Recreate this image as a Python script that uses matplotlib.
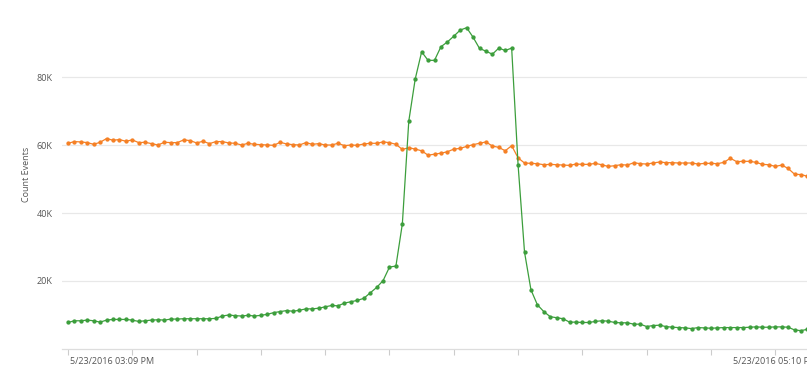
import matplotlib
matplotlib.use("Agg")
import matplotlib.pyplot as plt
import matplotlib.dates as mdates
import matplotlib.transforms as mtransforms
import pandas as pd
import numpy as np

# ---- data (values in thousands of events) ----
start_time = "2016-05-23 15:09:00"
step_seconds = 66

orange_k = [
    60.5, 61.0, 60.9, 60.7, 60.2, 60.8, 61.9, 61.4, 61.6, 61.1,
    61.5, 60.7, 60.8, 60.4, 60.0, 60.8, 60.7, 60.7, 61.5, 61.3,
    60.6, 61.1, 60.4, 61.0, 61.0, 60.6, 60.5, 60.0, 60.5, 60.2,
    60.1, 60.0, 59.9, 60.8, 60.3, 60.1, 60.0, 60.7, 60.2, 60.4,
    60.0, 60.0, 60.5, 59.8, 60.0, 59.9, 60.3, 60.5, 60.5, 60.9,
    60.7, 60.2, 58.7, 59.2, 58.8, 58.3, 57.0, 57.3, 57.6, 58.0,
    58.8, 59.0, 59.6, 60.1, 60.5, 60.9, 59.7, 59.3, 58.3, 59.8,
    56.2, 54.7, 54.6, 54.5, 54.2, 54.3, 54.2, 54.1, 54.0, 54.4,
    54.3, 54.3, 54.6, 54.2, 53.7, 53.9, 54.2, 54.1, 54.8, 54.5,
    54.4, 54.7, 55.0, 54.8, 54.8, 54.7, 54.7, 54.7, 54.4, 54.6,
    54.6, 54.5, 54.9, 56.1, 55.1, 55.2, 55.2, 54.9, 54.3, 54.2,
    53.7, 54.1, 53.1, 51.4, 51.3, 50.8,
]

green_k = [
    7.8, 8.3, 8.3, 8.5, 8.3, 7.9, 8.5, 8.7, 8.7, 8.7,
    8.5, 8.1, 8.3, 8.5, 8.6, 8.5, 8.8, 8.8, 8.9, 8.9,
    8.9, 8.9, 8.9, 9.0, 9.7, 10.0, 9.8, 9.7, 9.9, 9.7,
    9.9, 10.2, 10.7, 11.0, 11.3, 11.1, 11.4, 11.8, 11.8, 12.0,
    12.4, 12.8, 12.7, 13.5, 13.9, 14.3, 14.9, 16.5, 18.1, 20.1,
    24.1, 24.4, 36.8, 67.0, 79.4, 87.4, 84.9, 84.9, 88.9, 90.3,
    92.0, 93.8, 94.5, 91.7, 88.4, 87.6, 86.7, 88.5, 87.8, 88.5,
    54.1, 28.5, 17.4, 13.0, 11.0, 9.5, 9.2, 8.9, 7.9, 7.9,
    7.8, 7.8, 8.1, 8.3, 8.2, 7.8, 7.7, 7.7, 7.3, 7.3,
    6.6, 6.9, 7.0, 6.6, 6.4, 6.3, 6.2, 6.0, 6.3, 6.2,
    6.1, 6.2, 6.3, 6.3, 6.3, 6.3, 6.4, 6.5, 6.4, 6.4,
    6.5, 6.5, 6.4, 5.6, 5.4, 5.8,
]

y_ticks = [20000, 40000, 60000, 80000]
y_tick_labels = ["20K", "40K", "60K", "80K"]
x_tick_start = "2016-05-23 15:09:00"
x_tick_end = "2016-05-23 17:10:00"
x_tick_step = "11min"
x_first_label = "5/23/2016 03:09 PM"
x_last_label = "5/23/2016 05:10 PM"
y_label = "Count Events"

orange = np.array(orange_k) * 1000
green = np.array(green_k) * 1000
times = pd.date_range(start_time, periods=len(orange), freq=f"{step_seconds}s")

# ---- styling ----
plt.rcParams["font.family"] = ["Open Sans", "DejaVu Sans"]
text_color = "#555555"
c_orange = "#f58025"
c_green = "#3c9e3c"

fig = plt.figure(figsize=(8.07, 3.84), dpi=100)
W, H = 807, 384
ax = fig.add_axes([62 / W, 35 / H, (W - 62) / W, 349 / H])

ax.plot(times, orange, color=c_orange, lw=0.9, marker="o", ms=2.1,
        mec=c_orange, mfc=c_orange, zorder=3)
ax.plot(times, green, color=c_green, lw=0.9, marker="o", ms=2.1,
        mec=c_green, mfc=c_green, zorder=4)

step = pd.Timedelta(seconds=step_seconds)
t0 = times[0]
ax.set_xlim(mdates.date2num(t0 - 0.93 * step), mdates.date2num(t0 + 114.93 * step))
ax.set_ylim(0, 349 / 68 * 20000)

# y axis
ax.set_yticks(y_ticks)
ax.set_yticklabels(y_tick_labels)
ax.tick_params(axis="y", length=0, pad=7, labelsize=6.5, labelcolor=text_color)
ax.yaxis.grid(True, color="#e8e8e8", lw=0.9)
ax.set_axisbelow(True)
ax.set_ylabel(y_label, fontsize=6.5, color=text_color, labelpad=4)

# x axis
xt = pd.date_range(x_tick_start, x_tick_end, freq=x_tick_step)
ax.set_xticks(mdates.date2num(xt))
labels = [""] * len(xt)
labels[0] = x_first_label
labels[-1] = x_last_label
ax.set_xticklabels(labels)
ax.tick_params(axis="x", length=4.5, width=0.8, color="#cccccc", pad=1,
               labelsize=6.5, labelcolor=text_color)
xlabels = ax.get_xticklabels()
xlabels[0].set_horizontalalignment("left")
xlabels[0].set_transform(xlabels[0].get_transform() +
                         mtransforms.ScaledTranslation(2 / 100, 0, fig.dpi_scale_trans))
xlabels[-1].set_horizontalalignment("center")

for s in ["top", "right", "left"]:
    ax.spines[s].set_visible(False)
ax.spines["bottom"].set_color("#dddddd")
ax.spines["bottom"].set_linewidth(0.9)

fig.savefig("out.png", dpi=100, facecolor="white")
